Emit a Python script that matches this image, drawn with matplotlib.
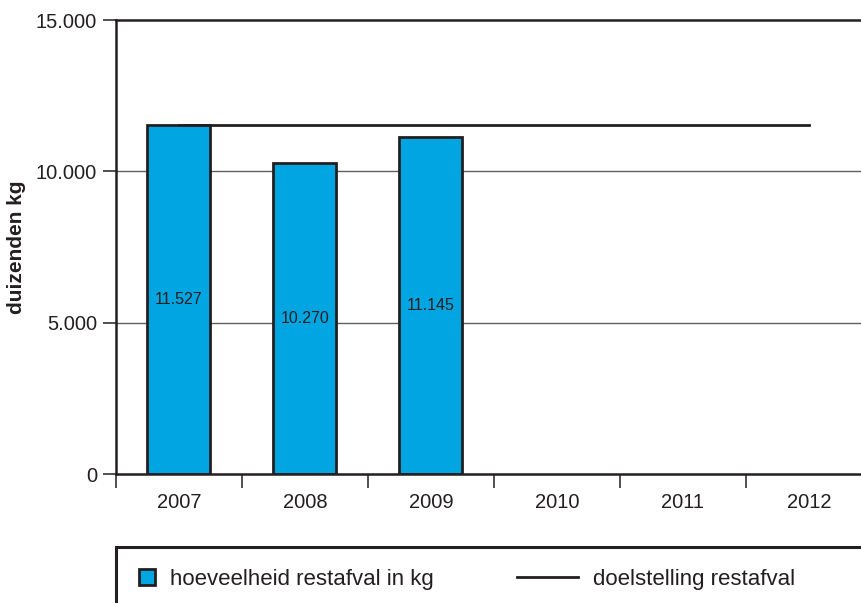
import numpy as np
import matplotlib
matplotlib.use("Agg")
import matplotlib.pyplot as plt
from matplotlib.patches import Patch, Rectangle
from matplotlib.lines import Line2D

plt.rcParams['font.family'] = ['Liberation Sans', 'DejaVu Sans']

# === Données ===
jaren = ["2007", "2008", "2009", "2010", "2011", "2012"]
restafval = [11527, 10270, 11145]          # duizenden kg
labels_restafval = ["11.527", "10.270", "11.145"]
doelstelling = [11527, 11527, 11527, 11527, 11527, 11527]
y_ticks = [0, 5000, 10000, 15000]
y_ticklabels = ["0", "5.000", "10.000", "15.000"]

blauw = "#00a5e1"
donker = "#231f20"

fig = plt.figure(figsize=(8.62, 6.03), dpi=100)
ax = fig.add_axes([116/862, 1 - 474/603, 756/862, 454/603])

x = np.arange(len(jaren))
xb = x[:len(restafval)]

# rasterlijnen
for yv in y_ticks[1:3]:
    ax.axhline(yv, color="#5f5f5f", lw=1.0, zorder=0)

ax.bar(xb, restafval, width=0.5, color=blauw, edgecolor=donker, linewidth=2, zorder=2)
ax.plot(x, doelstelling, color=donker, lw=2, zorder=3)

for xi, v, lab in zip(xb, restafval, labels_restafval):
    ax.text(xi, v / 2, lab, ha="center", va="center", fontsize=11.5, color=donker, zorder=4)

ax.set_xlim(-0.5, 5.5)
ax.set_ylim(0, 15000)

ax.set_xticks(x)
ax.set_xticklabels(jaren, fontsize=14.5, color=donker)
ax.set_xticks(np.arange(-0.5, 6.0, 1.0), minor=True)
ax.tick_params(axis="x", which="major", length=0, pad=14)
ax.tick_params(axis="x", which="minor", length=10, width=1.1, color=donker, direction="out")

ax.set_yticks(y_ticks)
ax.set_yticklabels(y_ticklabels, fontsize=14.5, color=donker)
ax.tick_params(axis="y", length=9.5, width=1.1, color=donker, pad=4, direction="out")

for s in ["left", "bottom", "top"]:
    ax.spines[s].set_color(donker)
    ax.spines[s].set_linewidth(1.8)
ax.spines["right"].set_visible(False)

ax.set_ylabel("duizenden kg", fontsize=15, fontweight="bold", color=donker)
ax.yaxis.set_label_coords(-90/756, 0.5)

# === Legenda ===
fig.patches.append(Rectangle((116/862, -0.1), 0.9, 1 - 547/603 + 0.1,
                             transform=fig.transFigure, fill=False,
                             edgecolor=donker, linewidth=2.2))

fs = 16
em = fs * 100 / 72
h1 = Patch(facecolor=blauw, edgecolor=donker, linewidth=2)
fig.legend(handles=[h1], labels=["hoeveelheid restafval in kg"], loc="center left",
           bbox_to_anchor=(139/862, 1 - 579/603), frameon=False, fontsize=fs,
           handlelength=16/em, handleheight=16/em, handletextpad=15/em,
           borderpad=0, borderaxespad=0, labelcolor=donker)
h2 = Line2D([0], [0], color=donker, lw=2)
fig.legend(handles=[h2], labels=["doelstelling restafval"], loc="center left",
           bbox_to_anchor=(517/862, 1 - 579/603), frameon=False, fontsize=fs,
           handlelength=61/em, handletextpad=15/em,
           borderpad=0, borderaxespad=0, labelcolor=donker)

fig.savefig("out.png", dpi=100)
